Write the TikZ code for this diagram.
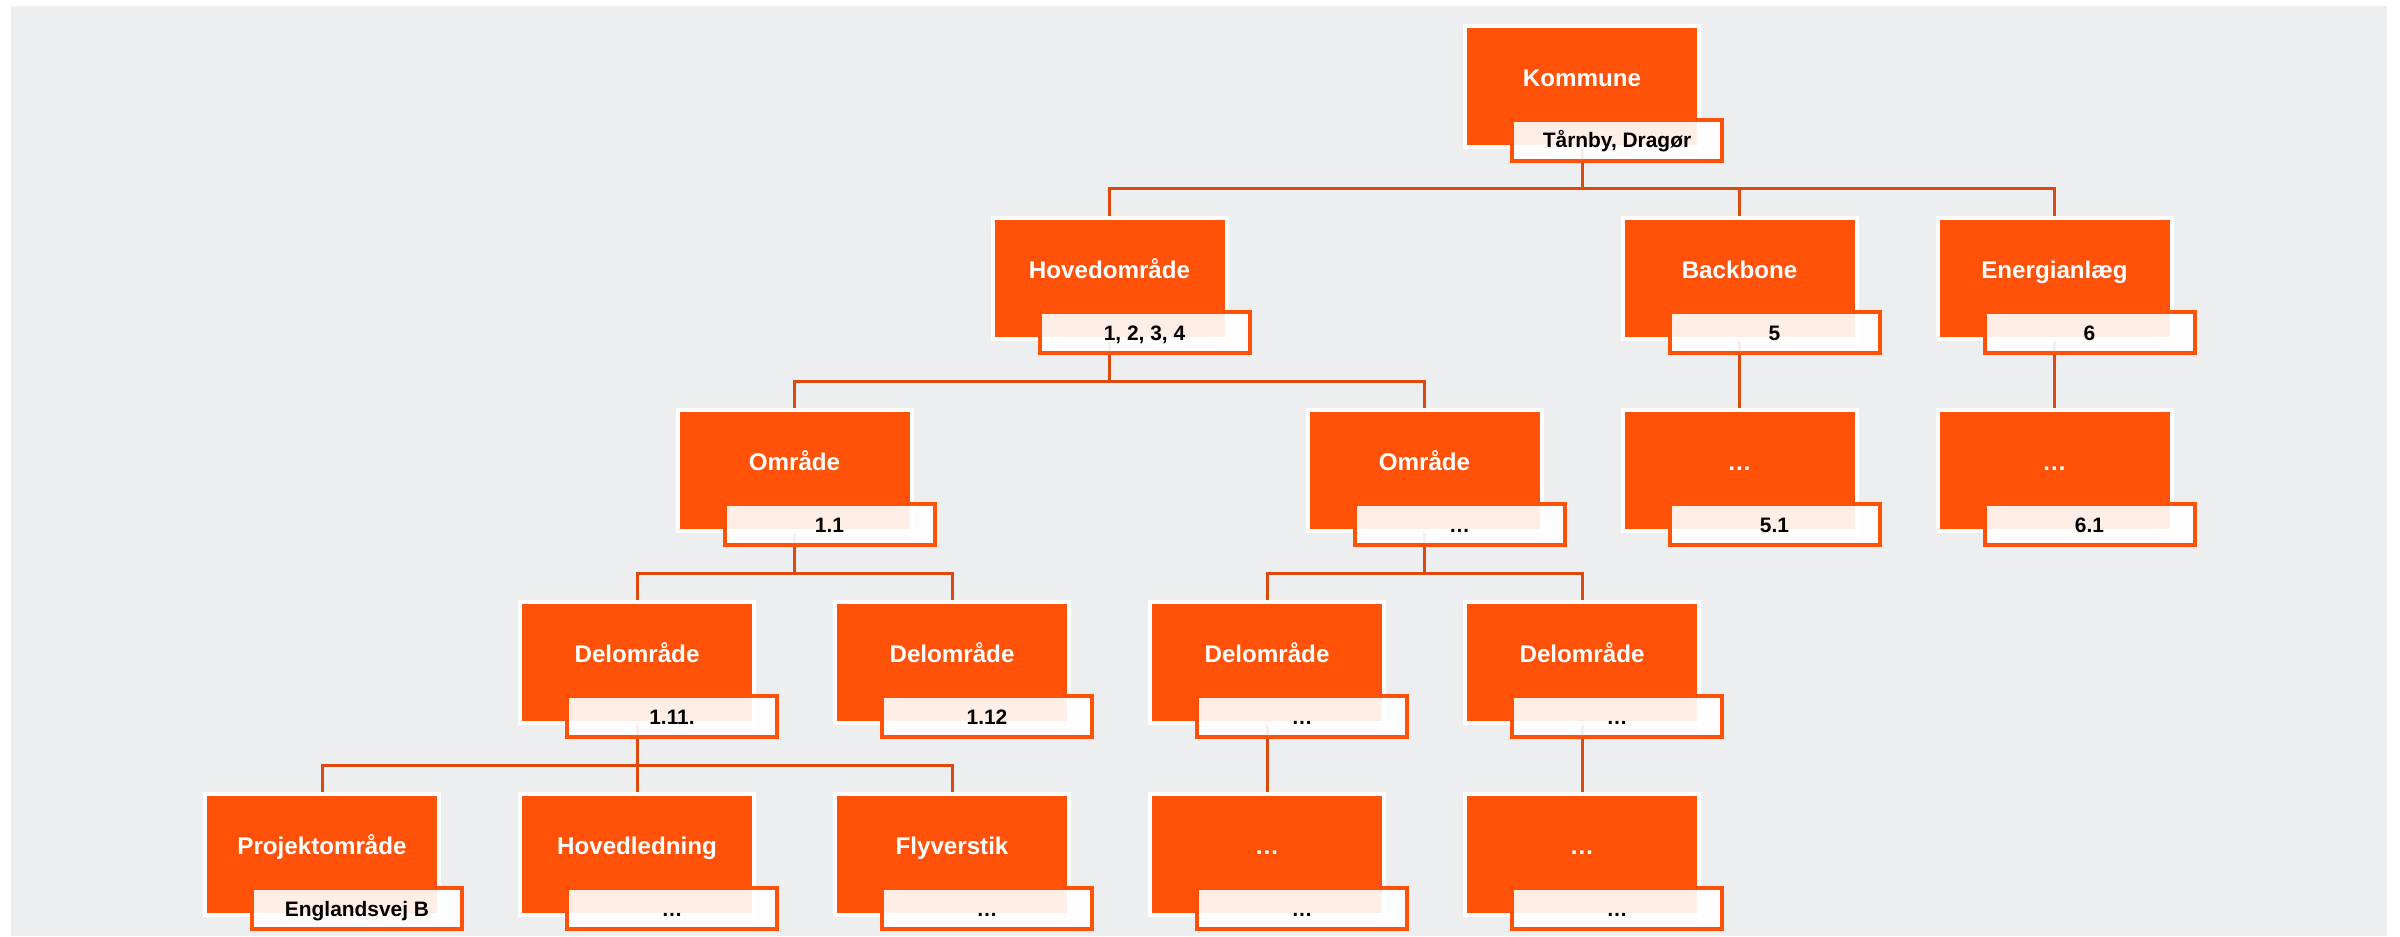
\documentclass[tikz,border=0pt]{standalone}
\usepackage{fontspec}
\setmainfont{Liberation Sans}
\usetikzlibrary{backgrounds}
\definecolor{boxorange}{HTML}{FF5208}
\definecolor{linkorange}{HTML}{DC4A10}
\definecolor{paper}{HTML}{EDEEF0}
\begin{document}
\begin{tikzpicture}[
  box/.style={fill=boxorange,draw=white,line width=0.08cm,inner sep=0pt,
    minimum width=4.68cm,minimum height=2.42cm,text=white,
    font=\fontsize{13.75}{16}\selectfont\bfseries,text height=0.3cm,text depth=0.3cm},
  tag/.style={fill=white,fill opacity=0.9,text opacity=1,draw=boxorange,
    line width=0.08cm,inner sep=0pt,minimum width=4.2cm,minimum height=0.82cm,
    font=\fontsize{11.9}{14}\selectfont\bfseries,text height=0.3cm,text depth=0pt},
  link/.style={draw=linkorange,line width=0.06cm}]
 \useasboundingbox (0,0) rectangle (48,18.72);
 \begin{scope}[on background layer]
  \fill [paper] (0.22,0) rectangle (47.74,18.6);
 \end{scope}
 % level 0
 \node [box] (kom) at (31.64,16.99) {Kommune};
 \node [tag] (kom-t) at ([shift={(0.7,-1.08)}]kom.center) {Tårnby, Dragør};
 % level 1
 \node [box] (hov) at (22.19,13.15) {Hovedområde};
 \node [tag] (hov-t) at ([shift={(0.7,-1.08)}]hov.center) {1, 2, 3, 4};
 \node [box] (bb) at (34.79,13.15) {Backbone};
 \node [tag] (bb-t) at ([shift={(0.7,-1.08)}]bb.center) {5};
 \node [box] (en) at (41.09,13.15) {Energianlæg};
 \node [tag] (en-t) at ([shift={(0.7,-1.08)}]en.center) {6};
 % level 2
 \node [box] (omr1) at (15.89,9.31) {Område};
 \node [tag] (omr1-t) at ([shift={(0.7,-1.08)}]omr1.center) {1.1};
 \node [box] (omr2) at (28.49,9.31) {Område};
 \node [tag] (omr2-t) at ([shift={(0.7,-1.08)}]omr2.center) {…};
 \node [box] (bb1) at (34.79,9.31) {…};
 \node [tag] (bb1-t) at ([shift={(0.7,-1.08)}]bb1.center) {5.1};
 \node [box] (en1) at (41.09,9.31) {…};
 \node [tag] (en1-t) at ([shift={(0.7,-1.08)}]en1.center) {6.1};
 % level 3
 \node [box] (del11) at (12.74,5.47) {Delområde};
 \node [tag] (del11-t) at ([shift={(0.7,-1.08)}]del11.center) {1.11.};
 \node [box] (del12) at (19.04,5.47) {Delområde};
 \node [tag] (del12-t) at ([shift={(0.7,-1.08)}]del12.center) {1.12};
 \node [box] (del3) at (25.34,5.47) {Delområde};
 \node [tag] (del3-t) at ([shift={(0.7,-1.08)}]del3.center) {…};
 \node [box] (del4) at (31.64,5.47) {Delområde};
 \node [tag] (del4-t) at ([shift={(0.7,-1.08)}]del4.center) {…};
 % level 4
 \node [box] (proj) at (6.44,1.63) {Projektområde};
 \node [tag] (proj-t) at ([shift={(0.7,-1.08)}]proj.center) {Englandsvej B};
 \node [box] (hled) at (12.74,1.63) {Hovedledning};
 \node [tag] (hled-t) at ([shift={(0.7,-1.08)}]hled.center) {…};
 \node [box] (fly) at (19.04,1.63) {Flyverstik};
 \node [tag] (fly-t) at ([shift={(0.7,-1.08)}]fly.center) {…};
 \node [box] (del31) at (25.34,1.63) {…};
 \node [tag] (del31-t) at ([shift={(0.7,-1.08)}]del31.center) {…};
 \node [box] (del41) at (31.64,1.63) {…};
 \node [tag] (del41-t) at ([shift={(0.7,-1.08)}]del41.center) {…};
 % connectors
 \begin{scope}[on background layer]
  \foreach \p/\c in {kom/hov,kom/bb,kom/en,hov/omr1,hov/omr2,bb/bb1,en/en1,
                     omr1/del11,omr1/del12,omr2/del3,omr2/del4,
                     del11/proj,del11/hled,del11/fly,del3/del31,del4/del41}
   \draw [link] (\p.center) |- ([yshift=1.79cm]\c.center) -- (\c.center);
 \end{scope}
\end{tikzpicture}
\end{document}
